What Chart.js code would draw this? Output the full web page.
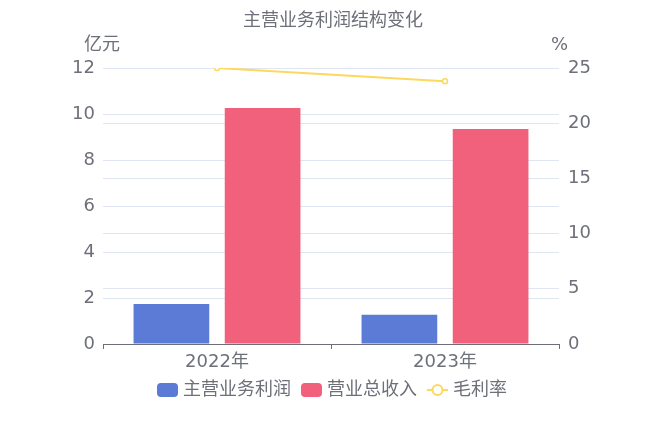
<!DOCTYPE html>
<html>
<head>
<meta charset="utf-8">
<script src="https://cdn.jsdelivr.net/npm/chart.js@4/dist/chart.umd.min.js"></script>
<style>
  html, body { margin: 0; padding: 0; background: #fff; }
  #wrap { width: 648px; height: 432px; }
</style>
</head>
<body>
<div id="wrap"><canvas id="myChart" width="648" height="432"></canvas></div>
<script>
const years = ["2022年", "2023年"];
const profit = [1.74, 1.27];        // 主营业务利润 (亿元)
const revenue = [10.26, 9.35];      // 营业总收入 (亿元)
const grossMargin = [25.0, 23.8];   // 毛利率 (%)
const leftTicks = [0, 2, 4, 6, 8, 10, 12];
const rightTicks = [0, 5, 10, 15, 20, 25];

const FONT = "'DejaVu Sans', 'Noto Sans CJK SC', sans-serif";
const TXT = "#6e7079";
const GRID = "#e0e6f1";

// title, axis units and legend
const extras = {
  id: "extras",
  afterDraw(chart) {
    const c = chart.ctx;
    c.save();
    c.fillStyle = TXT;
    c.textBaseline = "middle";
    c.font = "18px " + FONT;
    c.textAlign = "center";
    c.fillText("主营业务利润结构变化", 333, 21);
    c.textAlign = "left";
    c.fillText("亿元", 84, 45);
    c.fillText("%", 551, 45);

    let x = 157;
    const y = 390;
    chart.data.datasets.forEach(ds => {
      if (ds.type === "line") {
        c.strokeStyle = ds.borderColor;
        c.lineWidth = 2;
        c.beginPath();
        c.moveTo(x, y); c.lineTo(x + 21, y); c.stroke();
        c.beginPath();
        c.arc(x + 10.5, y, 5, 0, Math.PI * 2);
        c.fillStyle = "#fff"; c.fill(); c.stroke();
      } else {
        c.fillStyle = ds.backgroundColor;
        c.beginPath();
        c.roundRect(x, y - 7, 21, 14, 4);
        c.fill();
      }
      c.fillStyle = TXT;
      c.font = "18px " + FONT;
      c.textAlign = "left";
      c.fillText(ds.label, x + 26, y);
      x += 26 + c.measureText(ds.label).width + 10;
    });
    c.restore();
  }
};

const ctx = document.getElementById("myChart").getContext("2d");
const myChart = new Chart(ctx, {
  type: "bar",
  data: {
    labels: years,
    datasets: [
      {
        label: "主营业务利润",
        data: profit,
        backgroundColor: "#5b7bd6",
        borderColor: "#5b7bd6",
        yAxisID: "y",
        categoryPercentage: 0.8,
        barPercentage: 0.83,
        order: 2,
      },
      {
        label: "营业总收入",
        data: revenue,
        backgroundColor: "#f2617b",
        borderColor: "#f2617b",
        yAxisID: "y",
        categoryPercentage: 0.8,
        barPercentage: 0.83,
        order: 2,
      },
      {
        type: "line",
        label: "毛利率",
        data: grossMargin,
        yAxisID: "y1",
        borderColor: "#fdd85e",
        backgroundColor: "#fff",
        borderWidth: 2,
        pointRadius: 2.5,
        pointBorderWidth: 1.5,
        tension: 0,
        order: 1,
      },
    ],
  },
  options: {
    responsive: false,
    animation: false,
    layout: { padding: { top: 68, left: 0, right: 0, bottom: 0 } },
    scales: {
      x: {
        offset: true,
        grid: { offset: true, drawOnChartArea: false, drawTicks: true, tickLength: 5, color: TXT },
        border: { display: true, color: TXT },
        ticks: { color: TXT, font: { size: 18, family: FONT }, padding: 3 },
        afterFit(s) { s.height = 88; },
      },
      y: {
        position: "left",
        min: 0, max: 12,
        afterBuildTicks(s) { s.ticks = leftTicks.map(v => ({ value: v })); },
        grid: { color: GRID, drawTicks: false },
        border: { display: false },
        ticks: { color: TXT, font: { size: 18, family: FONT }, padding: 8 },
        afterFit(s) { s.width = 103; },
      },
      y1: {
        position: "right",
        min: 0, max: 25,
        afterBuildTicks(s) { s.ticks = rightTicks.map(v => ({ value: v })); },
        grid: { color: GRID, drawTicks: false },
        border: { display: false },
        ticks: { color: TXT, font: { size: 18, family: FONT }, padding: 9 },
        afterFit(s) { s.width = 89; },
      },
    },
    plugins: {
      legend: { display: false },
      title: { display: false },
      tooltip: { enabled: false },
    },
  },
  plugins: [extras],
});
</script>
</body>
</html>
